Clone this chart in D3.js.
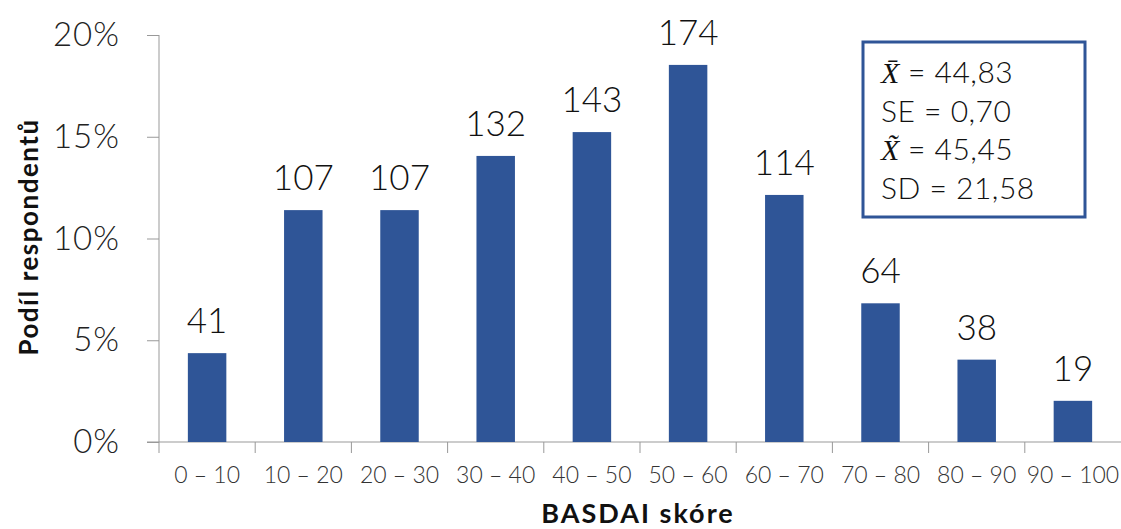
<!DOCTYPE html>
<html>
<head>
<meta charset="utf-8">
<script src="https://cdn.jsdelivr.net/npm/d3@7"></script>
<style>
  body { margin: 0; background: #fff; }
  text { font-family: Lato, "Open Sans", sans-serif; }
</style>
</head>
<body>
<svg width="1121" height="529"></svg>
<script>
// data
const categories = ["0 – 10", "10 – 20", "20 – 30", "30 – 40", "40 – 50", "50 – 60", "60 – 70", "70 – 80", "80 – 90", "90 – 100"];
const counts = [41, 107, 107, 132, 143, 174, 114, 64, 38, 19];
const yTicks = [0, 0.05, 0.10, 0.15, 0.20];
const statLines = [
  { sym: "X\u0304", rest: " = 44,83" },
  { sym: "", rest: "SE = 0,70" },
  { sym: "X\u0303", rest: " = 45,45" },
  { sym: "", rest: "SD = 21,58" }
];

const total = d3.sum(counts);
const data = categories.map((c, i) => ({ cat: c, n: counts[i], p: counts[i] / total }));

const width = 1121, height = 529;
const svg = d3.select("svg");
const barColor = "#2F5597";

let x = d3.scaleBand().domain(categories).range([159, 1121]).paddingInner(0.6).paddingOuter(0.3);
let y = d3.scaleLinear().domain([0, 0.20]).range([442, 35]);

// y axis
let axisY = d3.axisLeft(y).tickValues(yTicks).tickSize(12).tickFormat(d => Math.round(d * 100) + "%");
let gy = svg.append("g").attr("transform", "translate(159,0)").call(axisY);
gy.select(".domain").attr("stroke", "#999").attr("d", "M0,35V442");
gy.selectAll(".tick line").attr("stroke", "#999");
gy.selectAll(".tick text").attr("x", -39).attr("font-size", 33).attr("fill", "#222")
  .attr("font-family", "Lato, sans-serif").attr("font-weight", 300).attr("letter-spacing", 1);

// x axis (ticks between categories)
let bounds = d3.range(categories.length).map(i => 159 + i * x.step());
let gx = svg.append("g").attr("transform", "translate(0,442)");
gx.append("line").attr("x1", 147).attr("x2", 1121).attr("stroke", "#999");
gx.selectAll("line.tk").data(bounds).enter().append("line")
  .attr("class", "tk")
  .attr("x1", d => d).attr("x2", d => d).attr("y1", 0).attr("y2", 11).attr("stroke", "#999");
gx.selectAll("text").data(categories).enter().append("text")
  .attr("x", d => x(d) + x.bandwidth() / 2)
  .attr("y", 41)
  .attr("text-anchor", "middle")
  .attr("font-size", 23)
  .attr("font-weight", 300)
  .attr("fill", "#333")
  .text(d => d);

// bars
svg.selectAll("rect.bar").data(data).enter().append("rect")
  .attr("class", "bar")
  .attr("x", d => x(d.cat))
  .attr("y", d => y(d.p))
  .attr("width", x.bandwidth())
  .attr("height", d => y(0) - y(d.p))
  .attr("fill", barColor);

// value labels
svg.selectAll("text.val").data(data).enter().append("text")
  .attr("class", "val")
  .attr("x", d => x(d.cat) + x.bandwidth() / 2)
  .attr("y", d => y(d.p) - 20)
  .attr("text-anchor", "middle")
  .attr("font-size", 35)
  .attr("font-weight", 300)
  .attr("fill", "#111")
  .text(d => d.n);

// axis titles
svg.append("text")
  .attr("x", 638).attr("y", 523)
  .attr("text-anchor", "middle")
  .attr("font-size", 27).attr("font-weight", "bold").attr("fill", "#111")
  .attr("letter-spacing", 2)
  .text("BASDAI skóre");

svg.append("text")
  .attr("transform", "translate(38,237) rotate(-90)")
  .attr("text-anchor", "middle")
  .attr("font-size", 26).attr("font-weight", "bold").attr("fill", "#111")
  .attr("letter-spacing", 1.5)
  .text("Podíl respondentů");

// stats box
let box = svg.append("g");
box.append("rect")
  .attr("x", 863).attr("y", 42).attr("width", 222).attr("height", 175)
  .attr("fill", "#fff").attr("stroke", barColor).attr("stroke-width", 3);
statLines.forEach((l, i) => {
  let t = box.append("text")
    .attr("x", 881).attr("y", 83 + i * 38.5)
    .attr("font-size", 30).attr("font-weight", 300).attr("fill", "#111");
  if (l.sym) {
    t.append("tspan").attr("font-family", "Liberation Serif, serif").attr("font-weight", "normal")
      .attr("font-style", "italic").text(l.sym);
  }
  t.append("tspan").attr("letter-spacing", 0.5).text(l.rest);
});
</script>
</body>
</html>
